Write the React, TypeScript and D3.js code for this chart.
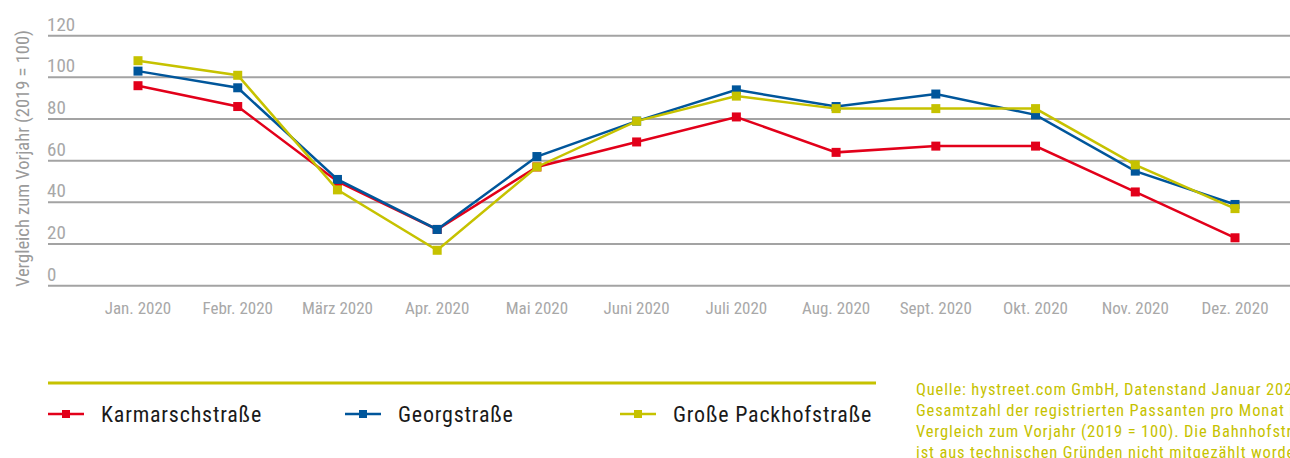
import React from "react";
import * as d3 from "d3";

const months = ["Jan. 2020","Febr. 2020","März 2020","Apr. 2020","Mai 2020","Juni 2020","Juli 2020","Aug. 2020","Sept. 2020","Okt. 2020","Nov. 2020","Dez. 2020"];
const karmarsch = [96, 86, 50, 27, 57, 69, 81, 64, 67, 67, 45, 23];
const georg = [103, 95, 51, 27, 62, 79, 94, 86, 92, 82, 55, 39];
const packhof = [108, 101, 46, 17, 57, 79, 91, 85, 85, 85, 58, 37];
const yTicks = [0, 20, 40, 60, 80, 100, 120];
const seriesNames = ["Karmarschstraße", "Georgstraße", "Große Packhofstraße"];
const seriesColors = ["#e2001a", "#00569b", "#c6c200"];
const sourceLines = [
  "Quelle: hystreet.com GmbH, Datenstand Januar 2021.",
  "Gesamtzahl der registrierten Passanten pro Monat im",
  "Vergleich zum Vorjahr (2019 = 100). Die Bahnhofstraße",
  "ist aus technischen Gründen nicht mitgezählt worden.",
];

const FONT = "'Liberation Sans Narrow', 'Roboto Condensed', Roboto, sans-serif";

export default function App() {
  const W = 1290, H = 458;
  const x = d3.scalePoint<string>().domain(months).range([138, 1235]);
  const y = d3.scaleLinear().domain([0, 120]).range([285.7, 35.7]);
  const allSeries = [karmarsch, georg, packhof];
  const line = d3.line<number>().x((_, i) => x(months[i])!).y(d => y(d));
  const legendX = [48, 345, 620];
  return (
    <svg width={W} height={H} style={{ position: "absolute", left: 0, top: 0 }} fontFamily={FONT}>
      {yTicks.map(t => (
        <g key={t}>
          <line x1={48} x2={W} y1={y(t)} y2={y(t)} stroke="#a3a3a3" strokeWidth={2} />
          <text x={47} y={y(t) - 5} fontSize={19} fill="#a8a8a8">{t}</text>
        </g>
      ))}
      <text transform={`translate(29,158.5) rotate(-90)`} textAnchor="middle" fontSize={18.5} fill="#9a9a9a">
        Vergleich zum Vorjahr (2019 = 100)
      </text>
      {months.map(m => (
        <text key={m} x={x(m)} y={314} textAnchor="middle" fontSize={17} fill="#a8a8a8">{m}</text>
      ))}
      {allSeries.map((s, si) => (
        <g key={si}>
          <path d={line(s) || ""} fill="none" stroke={seriesColors[si]} strokeWidth={2.5} />
          {s.map((v, i) => (
            <rect key={i} x={x(months[i])! - 4.5} y={y(v) - 4.5} width={9} height={9} fill={seriesColors[si]} />
          ))}
        </g>
      ))}
      <line x1={48} x2={876} y1={383} y2={383} stroke="#c6c200" strokeWidth={3} />
      {seriesNames.map((n, i) => (
        <g key={n}>
          <line x1={legendX[i]} x2={legendX[i] + 36} y1={414} y2={414} stroke={seriesColors[i]} strokeWidth={2.5} />
          <rect x={legendX[i] + 14} y={410} width={8} height={8} fill={seriesColors[i]} />
          <text x={legendX[i] + 53} y={422} fontSize={22} letterSpacing={0.8} fill="#1a1a1a">{n}</text>
        </g>
      ))}
      {sourceLines.map((l, i) => (
        <text key={i} x={916} y={394.5 + i * 21} fontSize={16.5} letterSpacing={0.85} fill="#c6c200">{l}</text>
      ))}
    </svg>
  );
}
